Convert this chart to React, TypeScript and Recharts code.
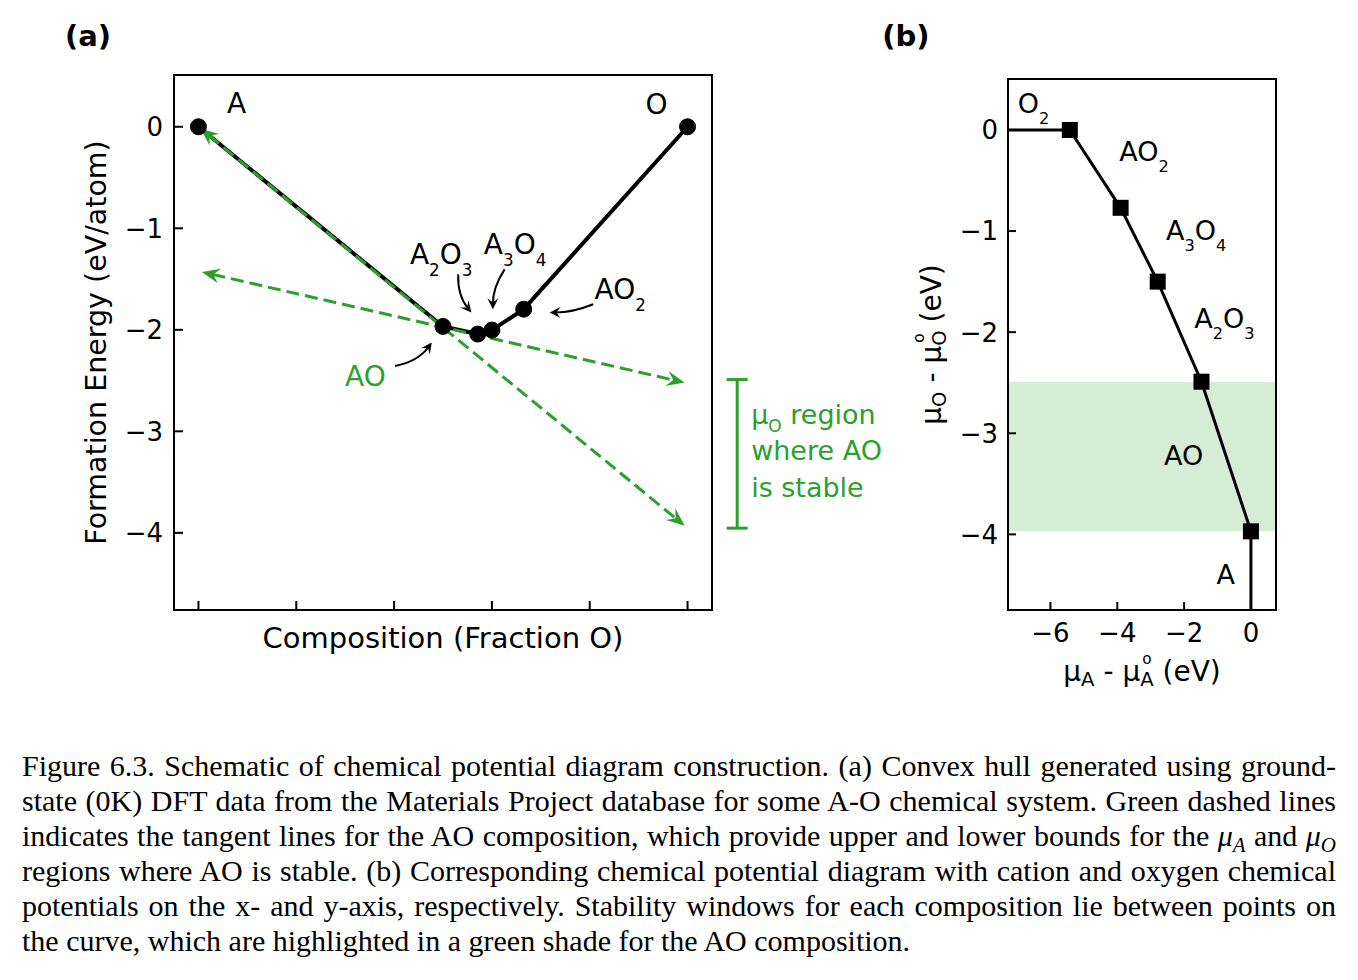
import React from 'react';
import { ComposedChart, Line, XAxis, YAxis, ReferenceLine, ReferenceDot, ReferenceArea } from 'recharts';

const GREEN = '#2ca02c';
const SANS = '"DejaVu Sans", Verdana, sans-serif';
const SERIF = '"Liberation Serif", "Times New Roman", serif';

// ---- panel (a): convex hull ----
const phases = ['A', 'AO', 'A2O3', 'A3O4', 'AO2', 'O'];
const fractionO = [0, 0.5, 0.571, 0.6, 0.665, 1];
const formationEnergy = [0, -1.967, -2.042, -2.003, -1.797, 0];
const compositionTicks = [0, 0.2, 0.4, 0.6, 0.8, 1];
const energyTicks = [0, -1, -2, -3, -4];
const compositionDomain = [-0.05, 1.05];
const energyDomain = [-4.76, 0.51];

// tangent lines through AO, [x1, y1, x2, y2]
const tangentLines = [
  [0.004, -0.016, 0.994, -3.93],
  [0.007, -1.43, 0.994, -2.52],
];

// mu_O window where AO is stable (bracket right of the plot)
const windowX = 1.1015;
const windowY = [-2.49, -3.954];
const windowNoteAt = [1.13, -2.925];

// labels of panel (a)
const hullText = ['A', 'O', 'A_2O_3', 'A_3O_4', 'AO_2'];
const hullTextX = [0.0586, 0.914, 0.4323, 0.5834, 0.81];
const hullTextY = [0.131, 0.127, -1.356, -1.258, -1.699];
const aoTextAt = [0.2996, -2.552];

// curved pointers: from, to, bend
const pointerFrom = [[0.531, -1.454], [0.626, -1.405], [0.807, -1.748], [0.402, -2.356]];
const pointerTo = [[0.558, -1.829], [0.602, -1.797], [0.718, -1.829], [0.477, -2.124]];
const pointerBend = [0.19, 0.15, -0.1, 0.2];

// ---- panel (b): chemical potential diagram ----
const boundaryMuA = [-5.42, -3.9, -2.79, -1.48, 0];
const boundaryMuO = [0, -0.77, -1.5, -2.49, -3.97];
const muATicks = [-6, -4, -2, 0];
const muOTicks = [0, -1, -2, -3, -4];
const muADomain = [-7.27, 0.75];
const muODomain = [-4.748, 0.504];
const regionText = ['O_2', 'AO_2', 'A_3O_4', 'A_2O_3', 'AO', 'A'];
const regionX = [-6.976, -3.94, -2.545, -1.697, -2.605, -1.03];
const regionY = [0.168, -0.308, -1.085, -1.955, -3.312, -4.49];

const hullData = phases.map((name, i) => ({ name, x: fractionO[i], e: formationEnergy[i] }));
const frontierData = [
  { x: muADomain[0], y: boundaryMuO[0] },
  ...boundaryMuA.map((a, i) => ({ x: a, y: boundaryMuO[i] })),
  { x: boundaryMuA[boundaryMuA.length - 1], y: muODomain[0] },
];

const minus = (v: number) => String(v).replace('-', '\u2212');

function chemSpans(label: string, size: number) {
  const out: React.ReactNode[] = [];
  let shift = 0;
  for (let i = 0; i < label.length; i++) {
    const ch = label[i];
    if (ch === '_') continue;
    const isSub = label[i - 1] === '_';
    const target = isSub ? size * 0.42 : 0;
    out.push(
      <tspan key={i} dy={target - shift} fontSize={isSub ? size * 0.6 : size}>
        {ch}
      </tspan>
    );
    shift = target;
  }
  return out;
}

function head(tx: number, ty: number, ux: number, uy: number, len: number, half: number, notch: number, color: string) {
  const bx = tx - ux * len;
  const by = ty - uy * len;
  const nx = -uy;
  const ny = ux;
  const pts = [
    `${tx},${ty}`,
    `${bx + nx * half},${by + ny * half}`,
    `${tx - ux * len * notch},${ty - uy * len * notch}`,
    `${bx - nx * half},${by - ny * half}`,
  ].join(' ');
  return <polygon points={pts} fill={color} stroke="none" />;
}

const TangentArrow = (p: any) => {
  const { x1, y1, x2, y2 } = p;
  const d = Math.hypot(x2 - x1, y2 - y1);
  const ux = (x2 - x1) / d;
  const uy = (y2 - y1) / d;
  const L = 18;
  return (
    <g>
      <line
        x1={x1 + ux * L * 0.6}
        y1={y1 + uy * L * 0.6}
        x2={x2 - ux * L * 0.6}
        y2={y2 - uy * L * 0.6}
        stroke={GREEN}
        strokeWidth={3}
        strokeDasharray="13 6"
      />
      {head(x2, y2, ux, uy, L, 7.5, 0.65, GREEN)}
      {head(x1, y1, -ux, -uy, L, 7.5, 0.65, GREEN)}
    </g>
  );
};

const Pointer = (p: any) => {
  const { x1, y1, x2, y2, bend } = p;
  const dx = x2 - x1;
  const dy = y2 - y1;
  const cx = (x1 + x2) / 2 - bend * dy;
  const cy = (y1 + y2) / 2 + bend * dx;
  const el = Math.hypot(x2 - cx, y2 - cy);
  const ux = (x2 - cx) / el;
  const uy = (y2 - cy) / el;
  return (
    <g>
      <path
        d={`M${x1},${y1} Q${cx},${cy} ${x2 - ux * 5},${y2 - uy * 5}`}
        fill="none"
        stroke="#000"
        strokeWidth={2}
      />
      {head(x2, y2, ux, uy, 11, 5.5, 0.6, '#000')}
    </g>
  );
};

const Bracket = (p: any) => {
  const { x1, y1, x2, y2 } = p;
  return (
    <g stroke={GREEN} strokeWidth={3}>
      <line x1={x1} y1={y1} x2={x2} y2={y2} />
      <line x1={x1 - 10.5} x2={x1 + 10.5} y1={y1} y2={y1} />
      <line x1={x2 - 10.5} x2={x2 + 10.5} y1={y2} y2={y2} />
    </g>
  );
};

const WindowNote = (p: any) => {
  const { cx, cy } = p;
  return (
    <text x={cx} y={cy} fill={GREEN} fontSize={27} fontFamily={SANS}>
      <tspan>μ</tspan>
      <tspan fontSize={17} dy={8}>O</tspan>
      <tspan dy={-8}> region</tspan>
      <tspan x={cx} dy={36.5}>where AO</tspan>
      <tspan x={cx} dy={36.5}>is stable</tspan>
    </text>
  );
};

const chemLabel = (text: string, size: number, color: string) => (p: any) => (
  <text x={p.cx} y={p.cy} fill={color} fontFamily={SANS} fontSize={size}>
    {chemSpans(text, size)}
  </text>
);

const yTick = (gap: number, len: number, size: number) => (p: any) => (
  <g>
    <line x1={p.x + gap} x2={p.x + gap + len} y1={p.y} y2={p.y} stroke="#000" strokeWidth={2} />
    <text x={p.x} y={p.y} dy="0.36em" textAnchor="end" fontSize={size} fontFamily={SANS} fill="#000">
      {minus(p.payload.value)}
    </text>
  </g>
);

const xTick = (gap: number, len: number, size: number, showText: boolean) => (p: any) => (
  <g>
    <line x1={p.x} x2={p.x} y1={p.y - gap} y2={p.y - gap - len} stroke="#000" strokeWidth={2} />
    {showText && (
      <text x={p.x} y={p.y} dy="0.36em" textAnchor="middle" fontSize={size} fontFamily={SANS} fill="#000">
        {minus(p.payload.value)}
      </text>
    )}
  </g>
);

function muSpans(sub: string, s: number, back: number) {
  return [
    <tspan key="a">μ</tspan>,
    <tspan key="b" fontSize={s * 0.7} dy={s * 0.18}>{sub}</tspan>,
    <tspan key="c" fontSize={s} dy={-s * 0.18}> - μ</tspan>,
    <tspan key="d" fontSize={s * 0.7} dy={s * 0.18}>{sub}</tspan>,
    <tspan key="e" fontSize={s * 0.55} dx={-back} dy={-s * 0.78}>o</tspan>,
    <tspan key="f" fontSize={s} dx={s * 0.07} dy={s * 0.6}> (eV)</tspan>,
  ];
}

const AxisTitleYA = (p: any) => {
  const vb = p.viewBox;
  const cx = vb.x + vb.width - 77;
  const cy = vb.y + vb.height / 2;
  return (
    <text x={cx} y={cy} dy="0.33em" textAnchor="middle" transform={`rotate(-90 ${cx} ${cy})`} fontSize={28.5} fontFamily={SANS} fill="#000">
      Formation Energy (eV/atom)
    </text>
  );
};

const AxisTitleXA = (p: any) => {
  const vb = p.viewBox;
  const cx = vb.x + vb.width / 2;
  const cy = vb.y + 28;
  return (
    <text x={cx} y={cy} dy="0.33em" textAnchor="middle" fontSize={29} fontFamily={SANS} fill="#000">
      Composition (Fraction O)
    </text>
  );
};

const AxisTitleYB = (p: any) => {
  const vb = p.viewBox;
  const cx = vb.x + vb.width - 76;
  const cy = vb.y + vb.height / 2;
  return (
    <text x={cx} y={cy} dy="0.33em" textAnchor="middle" transform={`rotate(-90 ${cx} ${cy})`} fontSize={28} fontFamily={SANS} fill="#000">
      {muSpans('O', 28, 12.4)}
    </text>
  );
};

const AxisTitleXB = (p: any) => {
  const vb = p.viewBox;
  const cx = vb.x + vb.width / 2;
  const cy = vb.y + 62;
  return (
    <text x={cx} y={cy} dy="0.33em" textAnchor="middle" fontSize={28} fontFamily={SANS} fill="#000">
      {muSpans('A', 28, 11.4)}
    </text>
  );
};

function HullPanel() {
  return (
    <ComposedChart width={900} height={700} data={hullData} margin={{ top: 75, right: 188, left: 0, bottom: 10 }}>
      <XAxis
        type="number"
        dataKey="x"
        domain={compositionDomain}
        ticks={compositionTicks}
        allowDataOverflow
        interval={0}
        height={80}
        axisLine={false}
        tickLine={false}
        tickSize={0}
        tickMargin={0}
        tick={xTick(0, 9, 26, false)}
        label={AxisTitleXA}
      />
      <YAxis
        type="number"
        domain={energyDomain}
        ticks={energyTicks}
        allowDataOverflow
        interval={0}
        width={174}
        axisLine={false}
        tickLine={false}
        tickSize={0}
        tickMargin={11}
        tick={yTick(11, 9, 26)}
        label={AxisTitleYA}
      />
      <Line
        type="linear"
        dataKey="e"
        stroke="#000"
        strokeWidth={4}
        dot={{ r: 8, fill: '#000', stroke: '#000', strokeWidth: 1 }}
        activeDot={false}
        isAnimationActive={false}
      />
      {tangentLines.map((t, i) => (
        <ReferenceLine
          key={`t${i}`}
          segment={[{ x: t[0], y: t[1] }, { x: t[2], y: t[3] }]}
          ifOverflow="visible"
          shape={(p: any) => <TangentArrow {...p} />}
        />
      ))}
      {pointerFrom.map((f, i) => (
        <ReferenceLine
          key={`p${i}`}
          segment={[{ x: f[0], y: f[1] }, { x: pointerTo[i][0], y: pointerTo[i][1] }]}
          ifOverflow="visible"
          shape={(p: any) => <Pointer {...p} bend={pointerBend[i]} />}
        />
      ))}
      <ReferenceLine
        segment={[{ x: windowX, y: windowY[0] }, { x: windowX, y: windowY[1] }]}
        ifOverflow="visible"
        shape={(p: any) => <Bracket {...p} />}
      />
      <ReferenceDot x={windowNoteAt[0]} y={windowNoteAt[1]} r={0} ifOverflow="visible" shape={(p: any) => <WindowNote {...p} />} />
      {hullText.map((t, i) => (
        <ReferenceDot key={`l${i}`} x={hullTextX[i]} y={hullTextY[i]} r={0} ifOverflow="visible" shape={chemLabel(t, 28, '#000')} />
      ))}
      <ReferenceDot x={aoTextAt[0]} y={aoTextAt[1]} r={0} ifOverflow="visible" shape={chemLabel('AO', 28, GREEN)} />
      <ReferenceArea
        x1={compositionDomain[0]}
        x2={compositionDomain[1]}
        y1={energyDomain[0]}
        y2={energyDomain[1]}
        ifOverflow="visible"
        fill="none"
        fillOpacity={0}
        stroke="#000"
        strokeWidth={2}
      />
    </ComposedChart>
  );
}

const SquareDot = (p: any) => {
  const { cx, cy, index } = p;
  if (index === 0 || index === frontierData.length - 1) return <g key={`s${index}`} />;
  return <rect key={`s${index}`} x={cx - 8} y={cy - 8} width={16} height={16} fill="#000" />;
};

function PotentialPanel() {
  return (
    <ComposedChart width={478} height={700} data={frontierData} margin={{ top: 79, right: 82, left: 0, bottom: 10 }}>
      <XAxis
        type="number"
        dataKey="x"
        domain={muADomain}
        ticks={muATicks}
        allowDataOverflow
        interval={0}
        height={80}
        axisLine={false}
        tickLine={false}
        tickSize={0}
        tickMargin={23}
        tick={xTick(23, 8, 26, true)}
        label={AxisTitleXB}
      />
      <YAxis
        type="number"
        domain={muODomain}
        ticks={muOTicks}
        allowDataOverflow
        interval={0}
        width={128}
        axisLine={false}
        tickLine={false}
        tickSize={0}
        tickMargin={10}
        tick={yTick(10, 8, 26)}
        label={AxisTitleYB}
      />
      <ReferenceArea
        x1={muADomain[0]}
        x2={muADomain[1]}
        y1={boundaryMuO[3]}
        y2={boundaryMuO[4]}
        ifOverflow="visible"
        fill={GREEN}
        fillOpacity={0.2}
        stroke="none"
      />
      <Line
        type="linear"
        dataKey="y"
        stroke="#000"
        strokeWidth={3}
        dot={SquareDot}
        activeDot={false}
        isAnimationActive={false}
      />
      {regionText.map((t, i) => (
        <ReferenceDot key={`r${i}`} x={regionX[i]} y={regionY[i]} r={0} ifOverflow="visible" shape={chemLabel(t, 27, '#000')} />
      ))}
      <ReferenceArea
        x1={muADomain[0]}
        x2={muADomain[1]}
        y1={muODomain[0]}
        y2={muODomain[1]}
        ifOverflow="visible"
        fill="none"
        fillOpacity={0}
        stroke="#000"
        strokeWidth={2}
      />
    </ComposedChart>
  );
}

const Mu = ({ s }: { s: string }) => (
  <i>
    μ<span style={{ fontSize: '0.7em', verticalAlign: '-0.3em', lineHeight: 0 }}>{s}</span>
  </i>
);

const captionLines: React.ReactNode[] = [
  'Figure 6.3. Schematic of chemical potential diagram construction. (a) Convex hull generated using ground-',
  'state (0K) DFT data from the Materials Project database for some A-O chemical system. Green dashed lines',
  <>
    indicates the tangent lines for the AO composition, which provide upper and lower bounds for the <Mu s="A" /> and <Mu s="O" />
  </>,
  'regions where AO is stable. (b) Corresponding chemical potential diagram with cation and oxygen chemical',
  'potentials on the x- and y-axis, respectively. Stability windows for each composition lie between points on',
  'the curve, which are highlighted in a green shade for the AO composition.',
];

export default function App() {
  return (
    <div style={{ position: 'absolute', left: 0, top: 0, width: 1358, height: 980, background: '#fff', overflow: 'hidden' }}>
      <div style={{ position: 'absolute', left: 0, top: 0 }}>
        <HullPanel />
      </div>
      <div style={{ position: 'absolute', left: 880, top: 0 }}>
        <PotentialPanel />
      </div>
      <svg width={1358} height={60} style={{ position: 'absolute', left: 0, top: 0 }}>
        <text x={88} y={46} textAnchor="middle" fontFamily={SANS} fontWeight="bold" fontSize={29} fill="#000">(a)</text>
        <text x={906} y={46} textAnchor="middle" fontFamily={SANS} fontWeight="bold" fontSize={29} fill="#000">(b)</text>
      </svg>
      <div
        style={{
          position: 'absolute',
          left: 22,
          top: 748,
          width: 1314,
          fontFamily: SERIF,
          fontSize: 30,
          lineHeight: '35px',
          color: '#000',
        }}
      >
        {captionLines.map((ln, i) => (
          <div key={i} style={{ textAlign: 'justify', textAlignLast: i < captionLines.length - 1 ? 'justify' : 'left' }}>
            {ln}
          </div>
        ))}
      </div>
    </div>
  );
}
